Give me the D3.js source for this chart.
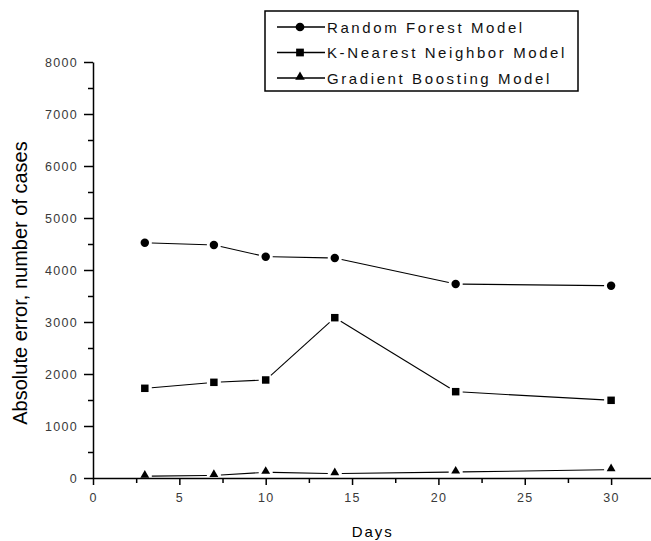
<!DOCTYPE html>
<html lang="en">
<head>
    <meta charset="UTF-8">
    <script src="https://cdnjs.cloudflare.com/ajax/libs/d3/7.8.5/d3.min.js"></script>
    <title>Absolute error by day</title>
    <style>
        body { margin: 0; background: #fff; }
        svg { display: block; font-family: "Liberation Sans", Arial, sans-serif; }
        .tick text { fill: #3a3a3a; font-size: 12.5px; letter-spacing: 1.3px; }
        .axis path, .axis line { stroke: #000; stroke-width: 1.5px; }
    </style>
</head>
<body>
<script>
    // values
    var days = [3, 7, 10, 14, 21, 30];
    var randomForest = [4525, 4480, 4256, 4230, 3730, 3698];
    var kNearest = [1725, 1840, 1885, 3083, 1660, 1494];
    var gradientBoosting = [35, 50, 110, 85, 115, 160];
    var seriesNames = ["Random Forest Model", "K-Nearest Neighbor Model", "Gradient Boosting Model"];
    var seriesSymbols = [d3.symbolCircle, d3.symbolSquare, d3.symbolTriangle];
    var xTicks = [0, 5, 10, 15, 20, 25, 30];
    var xMinor = [2.5, 7.5, 12.5, 17.5, 22.5, 27.5];
    var yTicks = [0, 1000, 2000, 3000, 4000, 5000, 6000, 7000, 8000];
    var yMinor = [500, 1500, 2500, 3500, 4500, 5500, 6500, 7500];

    var width = 651, height = 541;
    var margin = {top: 62, left: 93, bottom: 63};

    var svg = d3.select("body").append("svg")
        .attr("width", width)
        .attr("height", height);

    var x = d3.scaleLinear()
        .domain([0, 32.4])
        .range([margin.left, margin.left + 32.4 * 17.27]);

    var y = d3.scaleLinear()
        .domain([0, 8000])
        .range([height - margin.bottom, margin.top]);

    // minor ticks first
    svg.append("g").attr("class", "axis")
        .attr("transform", "translate(0," + y(0) + ")")
        .call(d3.axisBottom(x).tickValues(xMinor).tickSize(5).tickSizeOuter(0).tickFormat(""))
        .select(".domain").remove();
    svg.append("g").attr("class", "axis")
        .attr("transform", "translate(" + x(0) + ",0)")
        .call(d3.axisLeft(y).tickValues(yMinor).tickSize(5).tickSizeOuter(0).tickFormat(""))
        .select(".domain").remove();

    var xAxis = svg.append("g").attr("class", "axis")
        .attr("transform", "translate(0," + y(0) + ")")
        .call(d3.axisBottom(x).tickValues(xTicks).tickSize(7).tickSizeOuter(0).tickPadding(8));

    var yAxis = svg.append("g").attr("class", "axis")
        .attr("transform", "translate(" + x(0) + ",0)")
        .call(d3.axisLeft(y).tickValues(yTicks).tickSize(9).tickSizeOuter(0).tickPadding(6).tickFormat(d3.format("d")));

    // axis titles
    svg.append("text")
        .attr("x", x(16.2))
        .attr("y", 537)
        .attr("text-anchor", "middle")
        .style("font-size", "15px")
        .style("letter-spacing", "2px")
        .text("Days");

    svg.append("text")
        .attr("transform", "translate(27," + 283 + ") rotate(-90)")
        .attr("text-anchor", "middle")
        .style("font-size", "20px")
        .text("Absolute error, number of cases");

    // series
    var allSeries = [randomForest, kNearest, gradientBoosting];
    var gap = 7;

    allSeries.forEach(function(values, i) {
        var pts = days.map(function(d, j) { return [x(d), y(values[j])]; });
        var g = svg.append("g");

        // segments shortened at both ends so they stop short of the symbols
        for (var j = 0; j < pts.length - 1; j++) {
            var a = pts[j], b = pts[j + 1];
            var dx = b[0] - a[0], dy = b[1] - a[1];
            var len = Math.sqrt(dx * dx + dy * dy);
            var ux = dx / len, uy = dy / len;
            g.append("line")
                .attr("x1", a[0] + ux * gap).attr("y1", a[1] + uy * gap)
                .attr("x2", b[0] - ux * gap).attr("y2", b[1] - uy * gap)
                .attr("stroke", "#000")
                .attr("stroke-width", 1.1);
        }

        g.selectAll("path.marker")
            .data(pts)
            .enter()
            .append("path")
            .attr("class", "marker")
            .attr("transform", function(p) { return "translate(" + p[0] + "," + (p[1] - (i === 2 ? 1 : 0)) + ")"; })
            .attr("d", d3.symbol().type(seriesSymbols[i]).size(i === 2 ? 34 : 56))
            .attr("fill", "#000");
    });

    // legend
    var legend = svg.append("g").attr("transform", "translate(265,11)");
    legend.append("rect")
        .attr("width", 313)
        .attr("height", 80)
        .attr("fill", "#fff")
        .attr("stroke", "#000")
        .attr("stroke-width", 1.5);

    seriesNames.forEach(function(name, i) {
        var row = legend.append("g").attr("transform", "translate(0," + (16 + i * 25.5) + ")");
        row.append("line")
            .attr("x1", 12).attr("x2", 60)
            .attr("stroke", "#000").attr("stroke-width", 1.5);
        row.append("path")
            .attr("transform", "translate(35," + (i === 2 ? -1 : 0) + ")")
            .attr("d", d3.symbol().type(seriesSymbols[i]).size(i === 2 ? 40 : 60))
            .attr("fill", "#000");
        row.append("text")
            .attr("x", 62)
            .attr("y", 5.5)
            .style("font-size", "15px")
            .style("letter-spacing", "2.6px")
            .attr("fill", "#111")
            .text(name);
    });
</script>
</body>
</html>
